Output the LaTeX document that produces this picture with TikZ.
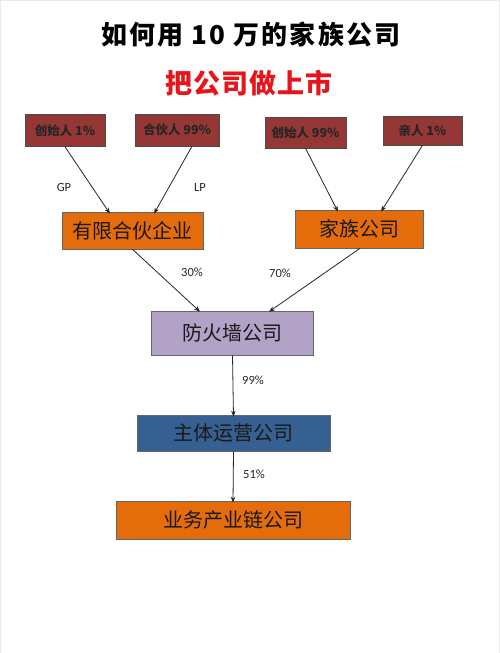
\documentclass[tikz,border=0pt]{standalone}
\usepackage{fontspec}
\setmainfont{Noto Sans CJK SC}
\newfontfamily\lat{Carlito}
\usetikzlibrary{arrows.meta}
\definecolor{dred}{HTML}{953735}
\definecolor{orng}{HTML}{E46C0A}
\definecolor{purp}{HTML}{B3A2C7}
\definecolor{blu}{HTML}{376092}
\definecolor{ttl}{HTML}{E8141B}
\tikzset{
  smallbox/.style={draw=black!70, line width=0.6pt, fill=dred, text=black!85, font=\fontsize{12.5}{14}\selectfont\bfseries, inner sep=0pt},
  bigbox/.style={draw=black!60, line width=0.6pt, text=black!90, font=\fontsize{20}{22}\selectfont, inner sep=0pt},
  conn/.style={-{Stealth[length=6pt,width=4.5pt]}, line width=0.8pt, black!85},
  lbl/.style={font=\lat\fontsize{12.5}{14}\selectfont, text=black!85}
}
\begin{document}
\begin{tikzpicture}[x=1pt,y=-1pt]
\useasboundingbox (0,0) rectangle (500,653);
\fill[white] (0,0) rectangle (500,653);
\draw[black!8, line width=1.2pt] (0.6,653) -- (0.6,0.6) -- (499.4,0.6) -- (499.4,653);
\node[font=\fontsize{26}{30}\selectfont\bfseries\addfontfeature{LetterSpace=8}] (t1) at (251,35) {如何用 10 万的家族公司};
\node[font=\fontsize{27}{30}\selectfont\bfseries\addfontfeature{LetterSpace=4}, text=ttl] (t2) at (249,83) {把公司做上市};

\node[smallbox, minimum width=80pt, minimum height=32pt] (f1) at (65,130.5) {创始人 1\%};
\node[smallbox, minimum width=84pt, minimum height=32pt] (p99) at (177,130) {合伙人 99\%};
\node[smallbox, minimum width=81pt, minimum height=31pt] (f99) at (305.5,132.5) {创始人 99\%};
\node[smallbox, minimum width=79pt, minimum height=29pt] (kin) at (422.5,130.5) {亲人 1\%};

\node[bigbox, fill=orng, minimum width=141pt, minimum height=37pt] (lp) at (132.5,230.5) {有限合伙企业};
\node[bigbox, fill=orng, minimum width=128pt, minimum height=38pt] (fam) at (359,229) {家族公司};
\node[bigbox, fill=purp, minimum width=162pt, minimum height=44pt] (fw) at (232.5,333) {防火墙公司};
\node[bigbox, fill=blu, minimum width=193pt, minimum height=36pt] (main) at (233.5,433) {主体运营公司};
\node[bigbox, fill=orng, minimum width=234pt, minimum height=38pt] (biz) at (233,520) {业务产业链公司};

\draw[conn] (f1.south) -- ([xshift=-22.5pt,yshift=-2pt]lp.north);
\draw[conn] ([xshift=15pt]p99.south) -- ([xshift=21.5pt,yshift=-2pt]lp.north);
\draw[conn] (f99.south) -- ([xshift=-21pt,yshift=-2pt]fam.north);
\draw[conn] (kin.south) -- ([xshift=22pt,yshift=-2pt]fam.north);
\draw[conn] (lp.south) -- ([xshift=-32.5pt,yshift=-1pt]fw.north);
\draw[conn] ([xshift=1pt]fam.south) -- ([xshift=36.5pt,yshift=-1pt]fw.north);
\draw[conn] (fw.south) -- ([yshift=-2pt]main.north);
\draw[conn] (main.south) -- ([yshift=-2pt]biz.north);

\node[lbl] (gp) at (64,187) {GP};
\node[lbl] (lpl) at (200,187) {LP};
\node[lbl] (l30) at (192,272) {30\%};
\node[lbl] (l70) at (280,273) {70\%};
\node[lbl] (l99) at (253,380) {99\%};
\node[lbl] (l51) at (254,474) {51\%};
\end{tikzpicture}
\end{document}
